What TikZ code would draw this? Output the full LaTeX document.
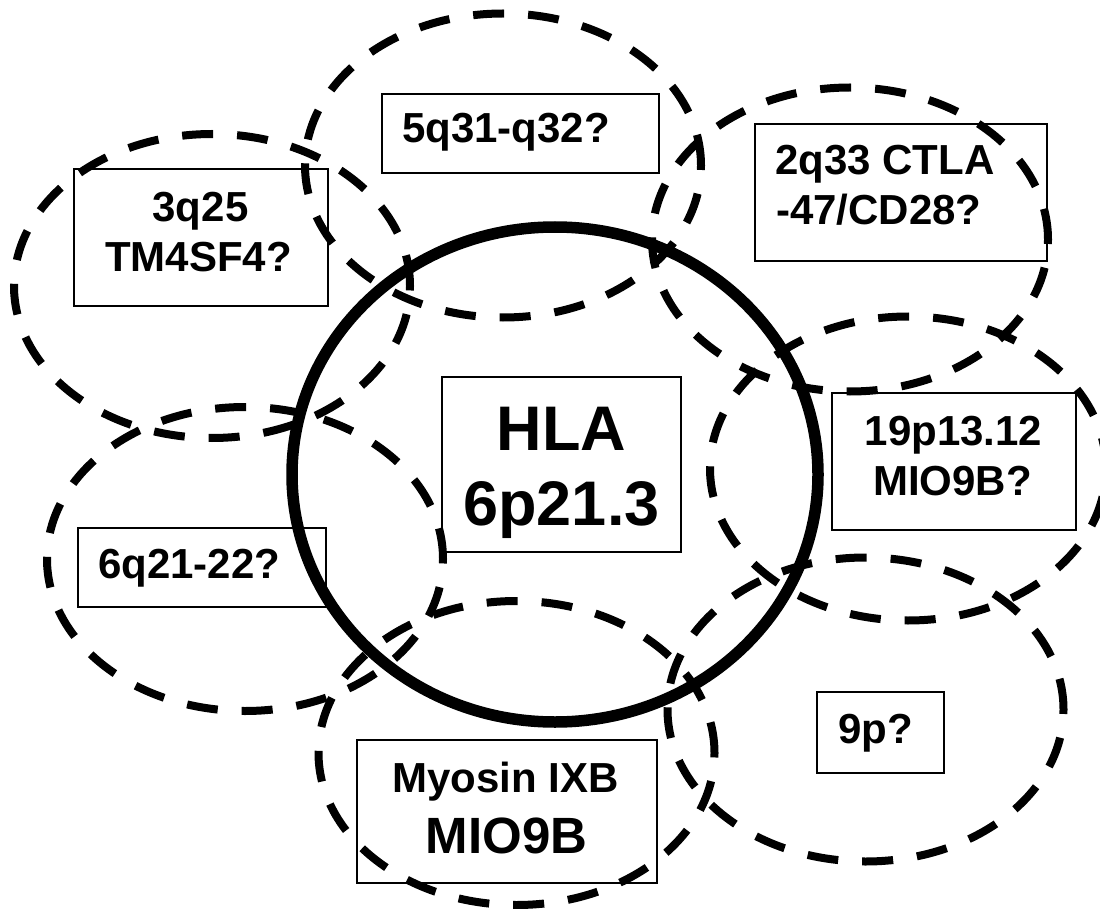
\documentclass[tikz,border=0pt]{standalone}
\usepackage{fontspec}
\setmainfont{Liberation Sans}
\usetikzlibrary{shapes.geometric}
\begin{document}
\begin{tikzpicture}[x=1pt, y=-1pt,
  zone/.style={ellipse, draw=black, line width=8pt, dash pattern=on 31pt off 24pt,
               minimum width=396pt, minimum height=304pt, inner sep=0pt, outer sep=0pt},
  core/.style={ellipse, draw=black, line width=11.5pt,
               minimum width=526pt, minimum height=495pt, inner sep=0pt, outer sep=0pt},
  tag/.style={rectangle, draw=black, line width=2.2pt, inner sep=0pt, outer sep=0pt},
  lbl/.style={font=\bfseries\fontsize{42}{50}\selectfont, inner sep=0pt, anchor=base},
  lblw/.style={lbl, anchor=base west},
  big/.style={font=\bfseries\fontsize{63}{75}\selectfont, inner sep=0pt, anchor=base},
  mid/.style={font=\bfseries\fontsize{51}{61}\selectfont, inner sep=0pt, anchor=base}]
\useasboundingbox (0,0) rectangle (1100,909);
\clip (0,0) rectangle (1100,909);

% candidate loci (dashed) and the HLA region (solid)
\node[zone] (z3q)  at (212,286)   {};
\node[zone] (z5q)  at (503,165.5) {};
\node[zone] (z2q)  at (850,239.5) {};
\node[zone] (z19p) at (908,468.5) {};
\node[zone] (z6q)  at (245,559)   {};
\node[zone] (z9p)  at (865.5,709.5) {};
\node[zone] (zmyo) at (516.5,753) {};
\node[core] (zhla) at (555,474.5) {};

% label frames
\node[tag, minimum width=254pt, minimum height=137pt] (b3q)  at (201,237.5) {};
\node[tag, minimum width=277pt, minimum height=79pt]  (b5q)  at (520.5,133.5) {};
\node[tag, minimum width=292pt, minimum height=137pt] (b2q)  at (901,192.5) {};
\node[tag, minimum width=239pt, minimum height=175pt] (bhla) at (561.5,464.5) {};
\node[tag, minimum width=244pt, minimum height=137pt] (b19p) at (954,461.5) {};
\node[tag, minimum width=248pt, minimum height=79pt]  (b6q)  at (202,567.5) {};
\node[tag, minimum width=127pt, minimum height=81pt]  (b9p)  at (880.5,732.5) {};
\node[tag, minimum width=300pt, minimum height=143pt] (bmyo) at (507,811.5) {};

% label texts
\node[lbl]  (t3qa)  at (200.5,222) {3q25};
\node[lbl]  (t3qb)  at (198.5,272) {TM4SF4?};
\node[lblw] (t5q)   at (402,143)   {5q31-q32?};
\node[lblw] (t2qa)  at (775,175)   {2q33 CTLA};
\node[lblw] (t2qb)  at (776,225)   {-47/CD28?};
\node[big]  (thlaa) at (561.5,450) {HLA};
\node[big]  (thlab) at (561.5,525) {6p21.3};
\node[lbl]  (t19pa) at (953.5,445) {19p13.12};
\node[lbl]  (t19pb) at (952.5,495) {MIO9B?};
\node[lblw] (t6q)   at (98,578)    {6q21-22?};
\node[lbl]  (t9p)   at (875.5,743) {9p?};
\node[lbl]  (tmyoa) at (505.5,792) {Myosin IXB};
\node[mid]  (tmyob) at (506.5,853) {MIO9B};
\end{tikzpicture}
\end{document}
